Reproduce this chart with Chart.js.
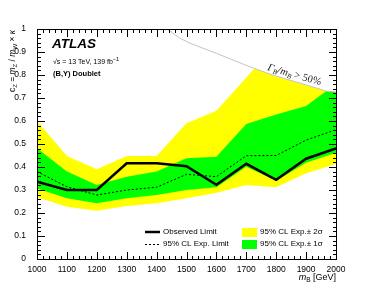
<!DOCTYPE html>
<html>
<head>
<meta charset="utf-8">
<script src="https://cdn.jsdelivr.net/npm/chart.js@4.4.0/dist/chart.umd.min.js"></script>
<style>
html, body { margin: 0; padding: 0; background: #fff; }
</style>
</head>
<body>
<canvas id="limitChart" width="374" height="289"></canvas>
<script>
// Mass points (GeV)
const massPoints = [1000, 1100, 1200, 1300, 1400, 1500, 1600, 1700, 1800, 1900, 2000];

// Limits on c_Z
const observed = [0.336, 0.300, 0.300, 0.416, 0.416, 0.403, 0.323, 0.414, 0.344, 0.436, 0.481];
const expected = [0.380, 0.314, 0.278, 0.300, 0.312, 0.368, 0.358, 0.449, 0.450, 0.517, 0.562];
const greenLower = [0.307, 0.264, 0.242, 0.264, 0.278, 0.300, 0.312, 0.401, 0.340, 0.418, 0.462];
const yellowLower = [0.268, 0.227, 0.210, 0.230, 0.242, 0.264, 0.288, 0.322, 0.312, 0.373, 0.413];

// Upper band edges are cut by the width line, so they have their own mass points
const greenUpperMass = [1000, 1100, 1200, 1300, 1400, 1500, 1600, 1700, 1800, 1900, 1968, 2000];
const greenUpper = [0.481, 0.380, 0.322, 0.358, 0.380, 0.438, 0.445, 0.587, 0.628, 0.665, 0.730, 0.726];
const yellowUpperMass = [1000, 1100, 1200, 1300, 1400, 1500, 1600, 1727, 1800, 1900, 1968, 2000];
const yellowUpper = [0.600, 0.448, 0.390, 0.448, 0.448, 0.590, 0.645, 0.828, 0.795, 0.757, 0.730, 0.726];

// Gamma_B / m_B > 50% boundary
const widthMass = [1435, 1478, 1512, 1600, 1727, 1800, 1900, 1968, 2000];
const widthLimit = [1.000, 0.960, 0.938, 0.894, 0.828, 0.795, 0.757, 0.730, 0.726];

const yTicks = [0, 0.1, 0.2, 0.3, 0.4, 0.5, 0.6, 0.7, 0.8, 0.9, 1];

const YELLOW = "#ffff00";
const GREEN = "#00ff00";
const SANS = "'Liberation Sans', Arial, sans-serif";
const SERIF = "'Liberation Serif', 'Times New Roman', serif";

function pts(xs, ys) {
    return xs.map((x, i) => ({ x: x, y: ys[i] }));
}

// draw a row of text pieces (for subscripts / italics)
function drawRuns(ctx, x, y, runs) {
    let cx = x;
    runs.forEach(r => {
        ctx.font = r.font;
        ctx.fillText(r.t, cx, y + (r.dy || 0));
        cx += ctx.measureText(r.t).width;
    });
}

function runsWidth(ctx, runs) {
    let w = 0;
    runs.forEach(r => {
        ctx.font = r.font;
        w += ctx.measureText(r.t).width;
    });
    return w;
}

const decorations = {
    id: "decorations",
    afterDatasetsDraw(chart) {
        const ctx = chart.ctx;
        const a = chart.chartArea;
        const xs = chart.scales.x;
        const ys = chart.scales.y;
        const L = Math.round(a.left), R = Math.round(a.right);
        const T = Math.round(a.top), B = Math.round(a.bottom);

        ctx.save();
        ctx.setLineDash([]);
        ctx.fillStyle = "#000";

        // frame
        ctx.fillRect(L, T, R - L + 1, 1);
        ctx.fillRect(L, B, R - L + 1, 1);
        ctx.fillRect(L, T, 1, B - T + 1);
        ctx.fillRect(R, T, 1, B - T + 1);

        // inward ticks on all four sides
        for (let m = 1000; m <= 2000; m += 20) {
            const px = Math.round(xs.getPixelForValue(m));
            const len = (m % 100 === 0) ? 8 : 4;
            ctx.fillRect(px, B - len + 1, 1, len);
            ctx.fillRect(px, T, 1, len);
        }
        for (let k = 0; k <= 50; k++) {
            const py = Math.round(ys.getPixelForValue(k * 0.02));
            const len = (k % 5 === 0) ? 8 : 4;
            ctx.fillRect(L, py, len, 1);
            ctx.fillRect(R - len + 1, py, len, 1);
        }

        ctx.textBaseline = "alphabetic";

        // x axis title
        const xTitle = [
            { t: "m", font: "italic 9px " + SANS },
            { t: "B", font: "6.5px " + SANS, dy: 2 },
            { t: " [GeV]", font: "9px " + SANS }
        ];
        drawRuns(ctx, a.right - runsWidth(ctx, xTitle), 280, xTitle);

        // y axis title (rotated)
        const yTitle = [
            { t: "c", font: "8.5px " + SANS },
            { t: "Z", font: "6px " + SANS, dy: 2 },
            { t: " = ", font: "8.5px " + SANS },
            { t: "m", font: "italic 8.5px " + SANS },
            { t: "Z", font: "6px " + SANS, dy: 2 },
            { t: " / ", font: "8.5px " + SANS },
            { t: "m", font: "italic 8.5px " + SANS },
            { t: "W", font: "6px " + SANS, dy: 2 },
            { t: " \u00d7 ", font: "8.5px " + SANS },
            { t: "\u03ba", font: "italic 8.5px " + SANS }
        ];
        ctx.save();
        ctx.translate(15, a.top + 1);
        ctx.rotate(-Math.PI / 2);
        drawRuns(ctx, -runsWidth(ctx, yTitle), 0, yTitle);
        ctx.restore();

        // labels top left
        ctx.font = "bold italic 13.5px " + SANS;
        ctx.fillText("ATLAS", 52, 48);
        drawRuns(ctx, 53, 64, [
            { t: "\u221as = 13 TeV, 139 fb", font: "7px " + SANS },
            { t: "\u22121", font: "5.5px " + SANS, dy: -3 }
        ]);
        ctx.font = "bold 7.5px " + SANS;
        ctx.fillText("(B,Y) Doublet", 53, 76);

        // width boundary label
        ctx.save();
        ctx.fillStyle = "#222";
        ctx.translate(267, 70);
        ctx.rotate(16 * Math.PI / 180);
        drawRuns(ctx, 0, 0, [
            { t: "\u0393", font: "italic 10.5px " + SERIF },
            { t: "B", font: "italic 7px " + SERIF, dy: 2 },
            { t: "/m", font: "italic 10.5px " + SERIF },
            { t: "B", font: "italic 7px " + SERIF, dy: 2 },
            { t: " > 50%", font: "10.5px " + SERIF }
        ]);
        ctx.restore();

        // legend
        ctx.font = "8px " + SANS;
        ctx.textBaseline = "middle";
        ctx.strokeStyle = "#000";
        ctx.beginPath();
        ctx.lineWidth = 2.5;
        ctx.moveTo(145, 232);
        ctx.lineTo(160, 232);
        ctx.stroke();
        ctx.beginPath();
        ctx.lineWidth = 1;
        ctx.setLineDash([2, 2]);
        ctx.moveTo(145, 244.5);
        ctx.lineTo(160, 244.5);
        ctx.stroke();
        ctx.setLineDash([]);
        ctx.fillText("Observed Limit", 163, 232);
        ctx.fillText("95% CL Exp. Limit", 163, 244);

        ctx.fillStyle = YELLOW;
        ctx.fillRect(242, 228, 15, 9);
        ctx.fillStyle = GREEN;
        ctx.fillRect(242, 240, 15, 9);
        ctx.fillStyle = "#000";
        ctx.fillText("95% CL Exp.\u00b1 2\u03c3", 260, 232);
        ctx.fillText("95% CL Exp.\u00b1 1\u03c3", 260, 244);

        ctx.restore();
    }
};

const ctx = document.getElementById("limitChart").getContext("2d");

const noLine = { borderColor: "rgba(0,0,0,0)", borderWidth: 0, pointRadius: 0 };

const limitChart = new Chart(ctx, {
    type: "line",
    data: {
        datasets: [
            Object.assign({ label: "yellowUp", data: pts(yellowUpperMass, yellowUpper),
                fill: { target: 1 }, backgroundColor: YELLOW, order: 6 }, noLine),
            Object.assign({ label: "yellowLow", data: pts(massPoints, yellowLower),
                fill: false, order: 7 }, noLine),
            Object.assign({ label: "greenUp", data: pts(greenUpperMass, greenUpper),
                fill: { target: 3 }, backgroundColor: GREEN, order: 4 }, noLine),
            Object.assign({ label: "greenLow", data: pts(massPoints, greenLower),
                fill: false, order: 5 }, noLine),
            {
                label: "width", data: pts(widthMass, widthLimit),
                borderColor: "#c4c4c4", borderWidth: 1, pointRadius: 0, fill: false, order: 3
            },
            {
                label: "95% CL Exp. Limit", data: pts(massPoints, expected),
                borderColor: "#000", borderWidth: 1, borderDash: [2, 2],
                pointRadius: 0, fill: false, order: 2
            },
            {
                label: "Observed Limit", data: pts(massPoints, observed),
                borderColor: "#000", borderWidth: 2.5, pointRadius: 0, fill: false, order: 1
            }
        ]
    },
    options: {
        responsive: false,
        animation: false,
        devicePixelRatio: 1,
        layout: { padding: { top: 29, right: 38, left: 0, bottom: 0 } },
        elements: { line: { tension: 0 } },
        plugins: {
            legend: { display: false },
            tooltip: { enabled: false }
        },
        scales: {
            x: {
                type: "linear",
                min: 1000,
                max: 2000,
                grid: { display: false },
                border: { display: false },
                ticks: {
                    stepSize: 100,
                    autoSkip: false,
                    maxRotation: 0,
                    padding: -2,
                    color: "#000",
                    font: { family: SANS, size: 8.5 },
                    callback: v => String(v)
                },
                afterFit: s => { s.height = 30; }
            },
            y: {
                min: 0,
                max: 1,
                afterBuildTicks: s => { s.ticks = yTicks.map(v => ({ value: v })); },
                grid: { display: false },
                border: { display: false },
                ticks: {
                    padding: 3,
                    color: "#000",
                    font: { family: SANS, size: 8.5 },
                    callback: v => String(Math.round(v * 10) / 10)
                },
                afterFit: s => { s.width = 37; }
            }
        }
    },
    plugins: [decorations]
});
</script>
</body>
</html>
